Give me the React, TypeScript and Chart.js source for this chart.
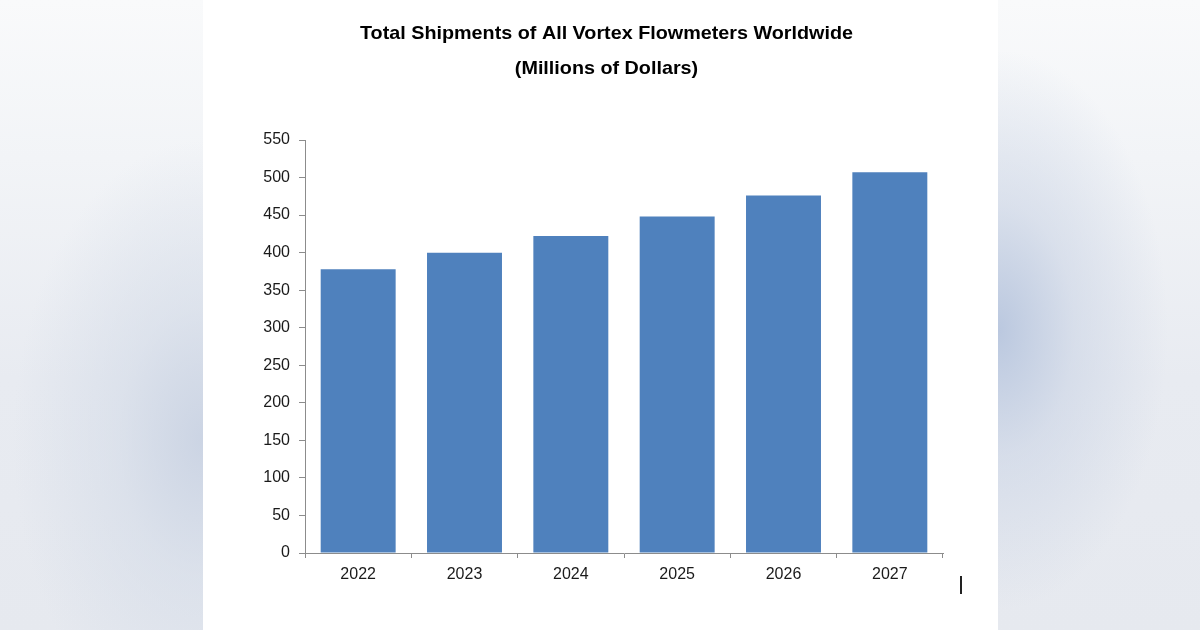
import React, { useEffect, useRef } from "react";
import { Chart, registerables } from "chart.js";

Chart.register(...registerables);

// Shipment totals, millions of US dollars
const years: string[] = ["2022", "2023", "2024", "2025", "2026", "2027"];
const shipments: number[] = [378, 400, 422, 448, 476, 507];
const titleLines: string[] = [
  "Total Shipments of All Vortex Flowmeters Worldwide",
  "(Millions of Dollars)",
];
const yMin = 0;
const yMax = 550;
const yStep = 50;

const FONT = "'Liberation Sans', Arial, sans-serif";
const AXIS_GRAY = "#8c8c8c";

// Two-line bold heading drawn above the plot, slightly widened
const headingPlugin = {
  id: "heading",
  afterDraw(chart: Chart) {
    const ctx = chart.ctx;
    const cx = 606.5;
    ctx.save();
    ctx.fillStyle = "#000";
    ctx.font = `bold 19px ${FONT}`;
    ctx.textAlign = "center";
    ctx.textBaseline = "middle";
    ctx.translate(cx, 0);
    ctx.scale(1.04, 1);
    ctx.fillText(titleLines[0], 0, 34);
    ctx.fillText(titleLines[1], 0, 69);
    ctx.restore();
  },
};

function ShipmentsChart() {
  const ref = useRef<HTMLCanvasElement | null>(null);

  useEffect(() => {
    if (!ref.current) return;
    const chart = new Chart(ref.current, {
      type: "bar",
      data: {
        labels: years,
        datasets: [
          {
            label: "Shipments",
            data: shipments,
            backgroundColor: "#4f81bd",
            borderWidth: 0,
            categoryPercentage: 1,
            barPercentage: 0.705,
          },
        ],
      },
      options: {
        animation: false,
        responsive: false,
        maintainAspectRatio: false,
        events: [],
        layout: {
          padding: { left: 245, right: 257, top: 140, bottom: 37 },
        },
        plugins: {
          legend: { display: false },
          title: { display: false },
          tooltip: { enabled: false },
        },
        scales: {
          x: {
            offset: true,
            grid: {
              display: true,
              offset: true,
              drawOnChartArea: false,
              drawTicks: true,
              tickLength: 5,
              color: AXIS_GRAY,
            },
            border: { display: true, color: AXIS_GRAY, width: 1 },
            ticks: {
              color: "#1a1a1a",
              font: { family: FONT, size: 16 },
              padding: 7,
              maxRotation: 0,
            },
            afterFit(scale: any) {
              scale.height = 40;
            },
          },
          y: {
            min: yMin,
            max: yMax,
            grid: {
              display: true,
              drawOnChartArea: false,
              drawTicks: true,
              tickLength: 6,
              color: AXIS_GRAY,
            },
            border: { display: true, color: AXIS_GRAY, width: 1 },
            ticks: {
              stepSize: yStep,
              color: "#1a1a1a",
              font: { family: FONT, size: 16 },
              padding: 9,
            },
            afterFit(scale: any) {
              scale.width = 60;
            },
          },
        },
      },
      plugins: [headingPlugin],
    });
    return () => chart.destroy();
  }, []);

  return (
    <canvas
      ref={ref}
      width={1200}
      height={630}
      style={{ position: "absolute", left: 0, top: 0, width: 1200, height: 630 }}
    />
  );
}

export default function App() {
  return (
    <div
      style={{
        position: "fixed",
        left: 0,
        top: 0,
        width: 1200,
        height: 630,
        overflow: "hidden",
        background:
          "radial-gradient(ellipse 190px 300px at 203px 440px, rgba(202,211,227,0.95) 0%, rgba(210,218,231,0.55) 45%, rgba(220,226,236,0) 100%)," +
          "radial-gradient(ellipse 170px 280px at 998px 330px, rgba(184,198,222,0.95) 0%, rgba(200,210,228,0.55) 45%, rgba(215,222,234,0) 100%)," +
          "linear-gradient(180deg, #f9fafb 0%, #f2f4f7 25%, #e8ebf1 60%, #e6e9ef 100%)",
      }}
    >
      <div
        style={{
          position: "absolute",
          left: 203,
          top: 0,
          width: 795,
          height: 630,
          background: "#ffffff",
        }}
      />
      <ShipmentsChart />
      <div
        style={{
          position: "absolute",
          left: 960,
          top: 576,
          width: 1.5,
          height: 18,
          background: "#222",
        }}
      />
    </div>
  );
}
